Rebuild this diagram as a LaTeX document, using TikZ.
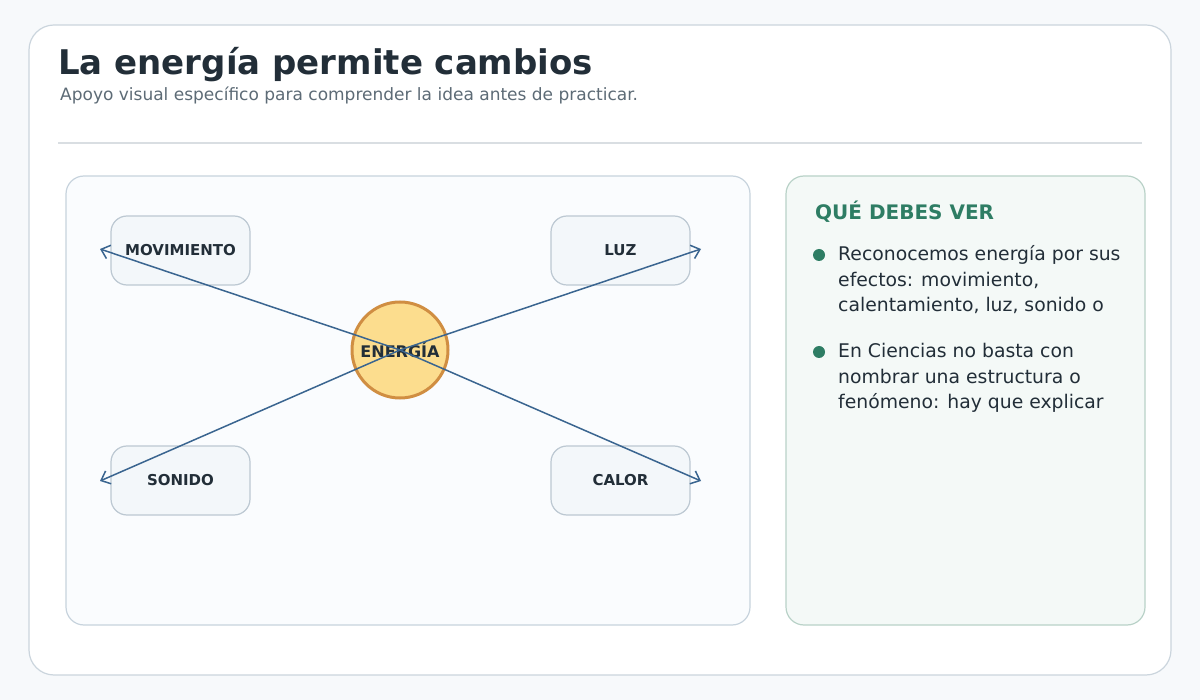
\documentclass[tikz,border=0pt]{standalone}
\usepackage{fontspec}
\setmainfont{DejaVu Sans}
\usetikzlibrary{arrows.meta}
\definecolor{bg}{HTML}{F7F9FB}
\definecolor{cardst}{HTML}{CBD5DD}
\definecolor{ink}{HTML}{222E38}
\definecolor{sub}{HTML}{5D6B76}
\definecolor{lp}{HTML}{FAFCFE}
\definecolor{lpst}{HTML}{C7D3DD}
\definecolor{rp}{HTML}{F4F9F7}
\definecolor{rpst}{HTML}{B9D2C8}
\definecolor{nf}{HTML}{F3F7FA}
\definecolor{nst}{HTML}{BCC8D2}
\definecolor{sunf}{HTML}{FCDD8E}
\definecolor{suns}{HTML}{D08E42}
\definecolor{arr}{HTML}{3A6590}
\definecolor{grn}{HTML}{2E7D64}
\begin{document}
\begin{tikzpicture}[x=1pt,y=-1pt,
  box/.style={draw=nst,fill=nf,line width=1.2pt,rounded corners=16pt,minimum width=139pt,minimum height=69pt,font=\fontsize{15}{17}\selectfont\bfseries,text=ink},
  con/.style={draw=arr,line width=1.5pt,-{Straight Barb[length=8pt,width=14pt]}},
  txt/.style={font=\fontsize{18.8}{25.5}\selectfont,text=ink,anchor=base west,align=left,inner sep=0pt}]
\useasboundingbox (0,0) rectangle (1200,700);
\fill[bg] (0,0) rectangle (1200,700);
\draw[cardst,fill=white,line width=1.2pt,rounded corners=25pt] (29,25) rectangle (1171,675);
\node[anchor=base west,inner sep=0pt,text=ink,font=\fontsize{34}{38}\selectfont\bfseries] (t) at (58,75) {La energía permite cambios};
\node[anchor=base west,inner sep=0pt,text=sub,font=\fontsize{17}{20}\selectfont] (s) at (60,101) {Apoyo visual específico para comprender la idea antes de practicar.};
\draw[color={rgb,255:red,217;green,222;blue,226},line width=1.2pt] (58,143) -- (1142,143);
\draw[lpst,fill=lp,line width=1.2pt,rounded corners=18pt] (66,176) rectangle (750,625);
\draw[rpst,fill=rp,line width=1.2pt,rounded corners=18pt] (786,176) rectangle (1145,625);
\node[box] (mov) at (180.5,250.5) {MOVIMIENTO};
\node[box] (luz) at (620.5,250.5) {LUZ};
\node[box] (son) at (180.5,480.5) {SONIDO};
\node[box] (cal) at (620.5,480.5) {CALOR};
\node[circle,draw=suns,fill=sunf,line width=3pt,minimum size=96pt,inner sep=0pt,font=\fontsize{16}{18}\selectfont\bfseries,text=ink] (e) at (400,350) {ENERGÍA};
\coordinate (a1) at (100,249);
\coordinate (a2) at (701,249);
\coordinate (a3) at (100,481);
\coordinate (a4) at (701,481);
\foreach \c in {a1,a2,a3,a4} \draw[con] (e.center) -- (\c);
\node[anchor=base west,inner sep=0pt,text=grn,font=\fontsize{20}{24}\selectfont\bfseries] (h) at (815,220) {QUÉ DEBES VER};
\fill[grn] (819,255) circle (6);
\node[txt] (b1) at (838,312) {Reconocemos energía por sus\\efectos: movimiento,\\calentamiento, luz, sonido o};
\fill[grn] (819,352) circle (6);
\node[txt] (b2) at (838,409) {En Ciencias no basta con\\nombrar una estructura o\\fenómeno: hay que explicar};
\end{tikzpicture}
\end{document}
